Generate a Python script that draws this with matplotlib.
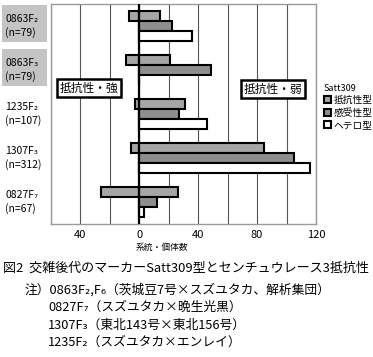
import matplotlib
matplotlib.use("Agg")
import matplotlib.pyplot as plt
from matplotlib.patches import Rectangle
import matplotlib.transforms as mtransforms
import numpy as np

plt.rcParams['font.family'] = ['Noto Sans CJK JP', 'DejaVu Sans']

# ---- data ----
populations = ["0863F₂", "0863F₃", "1235F₂", "1307F₃", "0827F₇"]
sizes = ["(n=79)", "(n=79)", "(n=107)", "(n=312)", "(n=67)"]
series = ["抵抗性型", "感受性型", "ヘテロ型"]
# resistance strong (plotted to the left) and weak (to the right)
strong_res = [7, 9, 3, 6, 26]
weak_res = [14, 21, 31, 85, 26]
strong_sus = [0, 0, 0, 0, 0]
weak_sus = [22, 49, 27, 105, 12]
strong_het = [0, 0, 0, 0, 0]
weak_het = [36, 0, 46, 116, 3]
xticks = [-40, 0, 40, 80, 120]
xticklabels = ["40", "0", "40", "80", "120"]
colors = ["#a6a6a6", "#8e8e8e", "#ffffff"]

W, H = 373, 357
fig = plt.figure(figsize=(W / 100, H / 100), dpi=100)

def fx(x):
    return x / W

def fy(y):
    return 1 - y / H

ax = fig.add_axes([fx(51), fy(224), fx(316) - fx(51), fy(4) - fy(224)])

y = np.arange(len(populations))
h = 0.225
offs = [-0.225, 0.0, 0.225]
strong = [strong_res, strong_sus, strong_het]
weak = [weak_res, weak_sus, weak_het]
handles = []
for i in range(3):
    s = -np.array(strong[i], dtype=float)
    w = np.array(weak[i], dtype=float)
    ax.barh(y + offs[i], s, height=h, color=colors[i], edgecolor="black",
            linewidth=1.5, zorder=3)
    b = ax.barh(y + offs[i], w, height=h, color=colors[i], edgecolor="black",
                linewidth=1.5, zorder=3, label=series[i])
    handles.append(b)

ax.set_xlim(-60, 120)
ax.set_ylim(4.5, -0.5)
ax.set_xticks(xticks)
ax.set_xticklabels(xticklabels, fontsize=8)
ax.set_xticks(np.arange(-60, 121, 20), minor=True)
ax.set_yticks([])
ax.tick_params(axis="x", which="both", length=0, pad=4)
ax.grid(True, axis="x", which="both", color="#555555", linewidth=0.8, zorder=1)
ax.axvline(0, color="black", linewidth=1.6, zorder=4)
for sp in ax.spines.values():
    sp.set_color("#999999")
    sp.set_linewidth(1.0)

# left labels
trans = mtransforms.blended_transform_factory(fig.transFigure, ax.transData)
for i, (p, n) in enumerate(zip(populations, sizes)):
    if i < 2:
        ax.add_patch(Rectangle((fx(2), i - 0.5 + 0.02), fx(45), 0.85,
                               transform=trans, facecolor="#c4c4c4",
                               edgecolor="none", clip_on=False, zorder=0))
    ax.text(fx(5), i - 0.16, p, transform=trans, fontsize=7.5,
            va="center", ha="left")
    ax.text(fx(5), i + 0.16, n, transform=trans, fontsize=7.5,
            va="center", ha="left")

# annotation boxes
box = dict(boxstyle="square,pad=0.25", facecolor="white", edgecolor="black",
           linewidth=1.8)
fig.text(fx(89), fy(88), "抵抗性・強", fontsize=8.5, ha="center", va="center",
         bbox=box, zorder=10)
fig.text(fx(273), fy(89), "抵抗性・弱", fontsize=8.5, ha="center", va="center",
         bbox=box, zorder=10)

# legend
leg = ax.legend(handles=handles, labels=series, title="Satt309",
                loc="upper left", bbox_to_anchor=(fx(318), fy(78)),
                bbox_transform=fig.transFigure, frameon=False, fontsize=7,
                title_fontsize=6.5, handlelength=0.7, handleheight=0.7,
                handletextpad=0.3, labelspacing=0.25, borderpad=0.1,
                alignment="left")

fig.text(fx(162), fy(247), "系統・個体数", fontsize=6.3, ha="center", va="center")

fig.text(fx(3), fy(268), "図2  交雑後代のマーカーSatt309型とセンチュウレース3抵抗性",
         fontsize=9.4, ha="left", va="center")
notes = [
    (25, 290, "注）0863F₂,F₆（茨城豆7号×スズユタカ、解析集団）"),
    (48, 307, "0827F₇（スズユタカ×晩生光黒）"),
    (48, 325, "1307F₃（東北143号×東北156号）"),
    (48, 342, "1235F₂（スズユタカ×エンレイ）"),
]
for x0, y0, t in notes:
    fig.text(fx(x0), fy(y0), t, fontsize=9.2, ha="left", va="center")

fig.savefig("out.png", dpi=100)
